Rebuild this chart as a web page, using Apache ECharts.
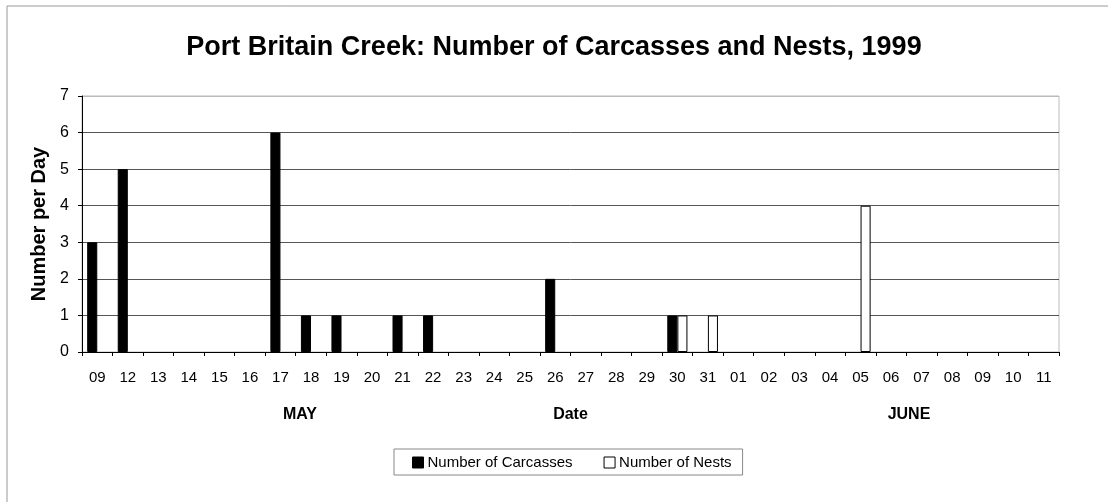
<!DOCTYPE html>
<html>
<head>
<meta charset="utf-8">
<style>
  html, body { margin: 0; padding: 0; background: #fff; }
  #chart { width: 1108px; height: 502px; }
</style>
<script src="https://cdn.jsdelivr.net/npm/echarts@6/dist/echarts.min.js"></script>
</head>
<body>
<div id="chart"></div>
<script>
// Survey dates (May 09 through June 11)
const dates = ['09','12','13','14','15','16','17','18','19','20','21','22','23','24','25','26','27','28','29','30','31',
               '01','02','03','04','05','06','07','08','09','10','11'];
// Daily counts
const carcasses = [3,5,0,0,0,0,6,1,1,0,1,1,0,0,0,2,0,0,0,1,0,0,0,0,0,0,0,0,0,0,0,0];
const nests     = [0,0,0,0,0,0,0,0,0,0,0,0,0,0,0,0,0,0,0,1,1,0,0,0,0,4,0,0,0,0,0,0];
const yTicks = [0,1,2,3,4,5,6,7];

const FONT = '"Liberation Sans", Arial, sans-serif';
const chart = echarts.init(document.getElementById('chart'), null, { renderer: 'canvas' });

// days with no count get no bar at all
const asBars = arr => arr.map(v => (v === 0 ? '-' : v));

// split line colours: solid dark lines inside, light top line (plot border)
const splitColors = yTicks.map((v, i) => i === yTicks.length - 1 ? '#bbbbbb' : '#555555');

chart.setOption({
  animation: false,
  backgroundColor: '#ffffff',
  title: {
    text: 'Port Britain Creek: Number of Carcasses and Nests, 1999',
    left: 'center',
    top: 29,
    textStyle: { fontFamily: FONT, fontWeight: 'bold', fontSize: 27, color: '#000' }
  },
  legend: {
    left: 394,
    top: 449,
    icon: 'rect',
    itemWidth: 11,
    itemHeight: 11,
    itemGap: 31,
    padding: [6, 11, 5, 18],
    borderColor: '#888',
    borderWidth: 1,
    textStyle: { fontFamily: FONT, fontSize: 15, color: '#000', padding: [0, 0, 0, -1] },
    data: [
      { name: 'Number of Carcasses', itemStyle: { color: '#000', borderColor: '#000', borderWidth: 1 } },
      { name: 'Number of Nests', itemStyle: { color: '#fff', borderColor: '#000', borderWidth: 1 } }
    ]
  },
  grid: {
    left: 82, right: 49, top: 96, bottom: 150,
    show: true,
    borderColor: '#bbbbbb',
    borderWidth: 1,
    backgroundColor: '#fff'
  },
  xAxis: {
    type: 'category',
    data: dates,
    boundaryGap: true,
    name: 'Date',
    nameLocation: 'middle',
    nameGap: 55,
    nameTextStyle: { fontFamily: FONT, fontWeight: 'bold', fontSize: 16, color: '#000' },
    axisLine: { lineStyle: { color: '#000', width: 1 } },
    axisTick: { show: true, alignWithLabel: false, length: 4, lineStyle: { color: '#000' } },
    axisLabel: { fontFamily: FONT, fontSize: 15, color: '#000', margin: 18, interval: 0 },
    splitLine: { show: false }
  },
  yAxis: {
    type: 'value',
    min: 0,
    max: 7,
    interval: 1,
    name: 'Number per Day',
    nameLocation: 'middle',
    nameGap: 31,
    nameTextStyle: { fontFamily: FONT, fontWeight: 'bold', fontSize: 20, color: '#000' },
    axisLine: { show: true, lineStyle: { color: '#000', width: 1 } },
    axisTick: { show: true, length: 4, lineStyle: { color: '#000' } },
    axisLabel: { fontFamily: FONT, fontSize: 16, color: '#000', margin: 13 },
    splitLine: { show: true, lineStyle: { color: splitColors, width: 1 } }
  },
  series: [
    {
      name: 'Number of Carcasses',
      type: 'bar',
      data: asBars(carcasses),
      barGap: '0%',
      barCategoryGap: '34%',
      itemStyle: { color: '#000', borderColor: '#000', borderWidth: 1 }
    },
    {
      name: 'Number of Nests',
      type: 'bar',
      data: asBars(nests),
      itemStyle: { color: '#fff', borderColor: '#000', borderWidth: 1 }
    }
  ],
  graphic: [
    {
      type: 'rect',
      x: 7, y: 6,
      shape: { width: 1200, height: 600 },
      style: { fill: 'none', stroke: '#999', lineWidth: 1 },
      silent: true
    },
    {
      type: 'text',
      x: 300, y: 415,
      style: { text: 'MAY', fontFamily: FONT, fontWeight: 'bold', fontSize: 16, fill: '#000',
               textAlign: 'center', textVerticalAlign: 'middle', verticalAlign: 'middle' }
    },
    {
      type: 'text',
      x: 909, y: 415,
      style: { text: 'JUNE', fontFamily: FONT, fontWeight: 'bold', fontSize: 16, fill: '#000',
               textAlign: 'center', textVerticalAlign: 'middle', verticalAlign: 'middle' }
    }
  ]
});
</script>
</body>
</html>
